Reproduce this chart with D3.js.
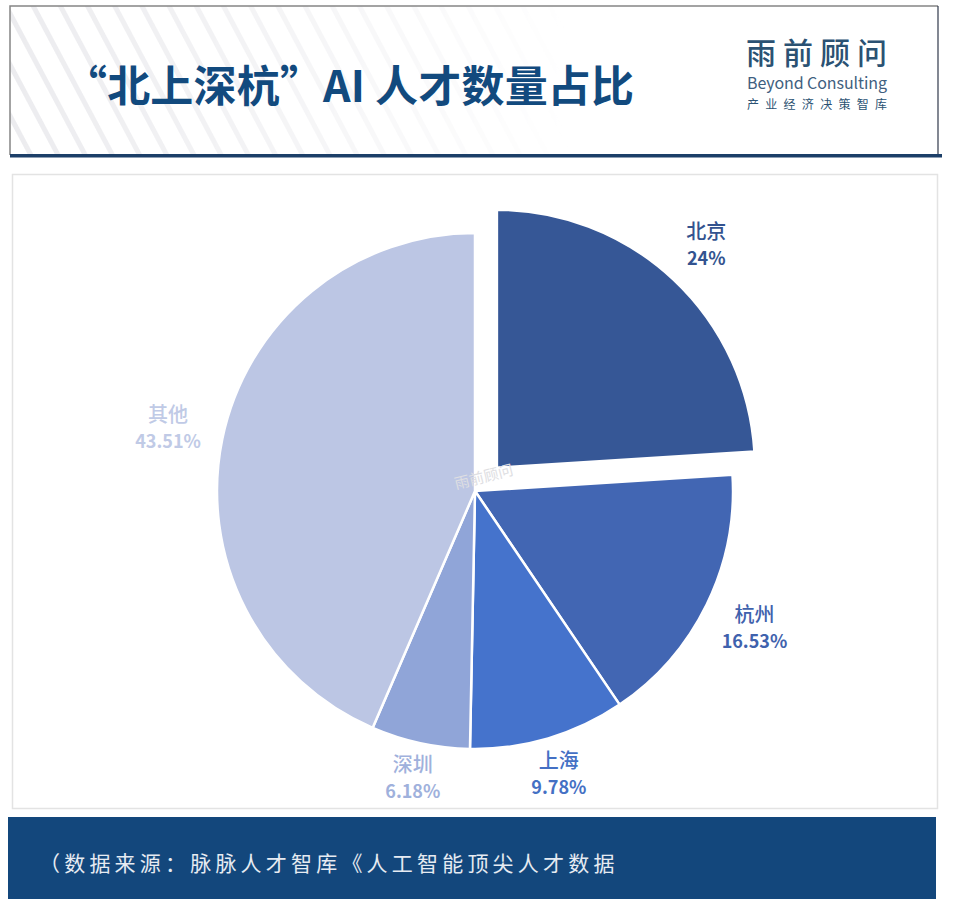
<!DOCTYPE html>
<html lang="zh">
<head>
<meta charset="utf-8">
<script src="https://cdn.jsdelivr.net/npm/d3@7"></script>
<style>
  html, body { margin: 0; padding: 0; background: #fff; }
  svg { display: block; }
  text { font-family: "Noto Sans CJK SC", "Noto Sans", sans-serif; }
</style>
</head>
<body>
<div id="chart"></div>
<script>
// Chart data
const cities = ["北京", "杭州", "上海", "深圳", "其他"];
const shares = [24, 16.53, 9.78, 6.18, 43.51];
const shareLabels = ["24%", "16.53%", "9.78%", "6.18%", "43.51%"];
const sliceColors = ["#365796", "#4266b3", "#4573cc", "#90a5d8", "#bcc6e4"];
const labelColors = ["#33538f", "#3f62ad", "#4470c4", "#9fb1dc", "#c0cae6"];
const explodedCity = "北京";

const titleText = "“北上深杭”AI 人才数量占比";
const sourceText = "（数据来源：脉脉人才智库《人工智能顶尖人才数据";

const width = 960, height = 909;
const center = { x: 475, y: 491 };
const radius = 258;
const explode = 32;

const svg = d3.select("#chart").append("svg")
  .attr("width", width)
  .attr("height", height);

const defs = svg.append("defs");

// Diagonal hatching behind the title, fading out to the right
const pattern = defs.append("pattern")
  .attr("id", "hatch")
  .attr("width", 24)
  .attr("height", 24)
  .attr("patternUnits", "userSpaceOnUse")
  .attr("patternTransform", "rotate(-28)");
pattern.append("rect")
  .attr("width", 5)
  .attr("height", 24)
  .attr("fill", "#ececef");

const fade = defs.append("linearGradient").attr("id", "fade");
fade.append("stop").attr("offset", "0").attr("stop-color", "#fff");
fade.append("stop").attr("offset", "0.5").attr("stop-color", "#888");
fade.append("stop").attr("offset", "1").attr("stop-color", "#000");
defs.append("mask").attr("id", "fadeMask")
  .attr("maskUnits", "userSpaceOnUse")
  .attr("x", 10).attr("y", 6).attr("width", 560).attr("height", 149)
  .append("rect")
  .attr("x", 10).attr("y", 6).attr("width", 560).attr("height", 149)
  .attr("fill", "url(#fade)");

// Header box
svg.append("rect")
  .attr("x", 10).attr("y", 6).attr("width", 560).attr("height", 149)
  .attr("fill", "url(#hatch)")
  .attr("mask", "url(#fadeMask)");
svg.append("path")
  .attr("d", "M10,155V6H938")
  .attr("fill", "none")
  .attr("stroke", "#858585")
  .attr("stroke-width", 1.5);
svg.append("path")
  .attr("d", "M938,6V155")
  .attr("fill", "none")
  .attr("stroke", "#30384a")
  .attr("stroke-width", 1.2);
svg.append("rect")
  .attr("x", 10).attr("y", 154).attr("width", 932).attr("height", 3.5)
  .attr("fill", "#1c3f68");

svg.append("text")
  .attr("x", 64)
  .attr("y", 102)
  .attr("font-size", 43)
  .attr("font-weight", 700)
  .attr("fill", "#124a7e")
  .attr("textLength", 570)
  .text(titleText);

// Logo
const logo = svg.append("g").attr("fill", "#2b5273");
logo.append("text")
  .attr("x", 746).attr("y", 64)
  .attr("font-size", 30)
  .attr("font-weight", 500)
  .attr("textLength", 141)
  .text("雨前顾问");
logo.append("text")
  .attr("x", 747).attr("y", 89)
  .attr("font-size", 16)
  .attr("fill", "#3f6080")
  .attr("font-family", "Lato, sans-serif")
  .attr("textLength", 140)
  .text("Beyond Consulting");
logo.append("text")
  .attr("x", 747).attr("y", 109)
  .attr("font-size", 12)
  .attr("textLength", 140)
  .text("产业经济决策智库");

// Chart panel
svg.append("rect")
  .attr("x", 12.5).attr("y", 174.5).attr("width", 925).attr("height", 634)
  .attr("fill", "#fff")
  .attr("stroke", "#e3e3e3")
  .attr("stroke-width", 1.5);

// Pie
const rows = cities.map((city, i) => ({
  city,
  share: shares[i],
  label: shareLabels[i],
  color: sliceColors[i],
  labelColor: labelColors[i],
}));

const pie = d3.pie().sort(null).value(d => d.share);
const arc = d3.arc().innerRadius(0).outerRadius(radius);
const arcs = pie(rows);

const offset = d => {
  if (d.data.city !== explodedCity) return [0, 0];
  const mid = (d.startAngle + d.endAngle) / 2;
  return [Math.sin(mid) * explode, -Math.cos(mid) * explode];
};

const chart = svg.append("g")
  .attr("transform", `translate(${center.x},${center.y})`);

chart.selectAll(".slice")
  .data(arcs)
  .join("path")
  .attr("class", "slice")
  .attr("d", arc)
  .attr("transform", d => `translate(${offset(d)})`)
  .attr("fill", d => d.data.color)
  .attr("stroke", "#fff")
  .attr("stroke-width", 2.5);

// Labels sit outside the rim, pushed out a bit more on the sides
const labels = chart.selectAll(".slice-label")
  .data(arcs)
  .join("g")
  .attr("class", "slice-label")
  .attr("text-anchor", "middle")
  .attr("fill", d => d.data.labelColor)
  .attr("transform", d => {
    const mid = (d.startAngle + d.endAngle) / 2;
    const r = 288 + 26 * Math.abs(Math.sin(mid));
    const [ox, oy] = offset(d);
    return `translate(${Math.sin(mid) * r + ox},${-Math.cos(mid) * r + oy})`;
  });

labels.append("text")
  .attr("y", -6)
  .attr("font-size", 20)
  .attr("font-weight", 500)
  .text(d => d.data.city);
labels.append("text")
  .attr("y", 20)
  .attr("font-size", 18)
  .attr("font-weight", 700)
  .text(d => d.data.label);

// Watermark in the middle of the pie
svg.append("text")
  .attr("transform", "translate(485,482) rotate(-14)")
  .attr("text-anchor", "middle")
  .attr("font-size", 15)
  .attr("fill", "#dedee2")
  .text("雨前顾问");

// Source bar
svg.append("rect")
  .attr("x", 8).attr("y", 817).attr("width", 928).attr("height", 82)
  .attr("fill", "#13477c");
svg.append("text")
  .attr("x", 39)
  .attr("y", 871)
  .attr("font-size", 21)
  .attr("letter-spacing", 4.2)
  .attr("fill", "#e6ebf2")
  .text(sourceText);
</script>
</body>
</html>
